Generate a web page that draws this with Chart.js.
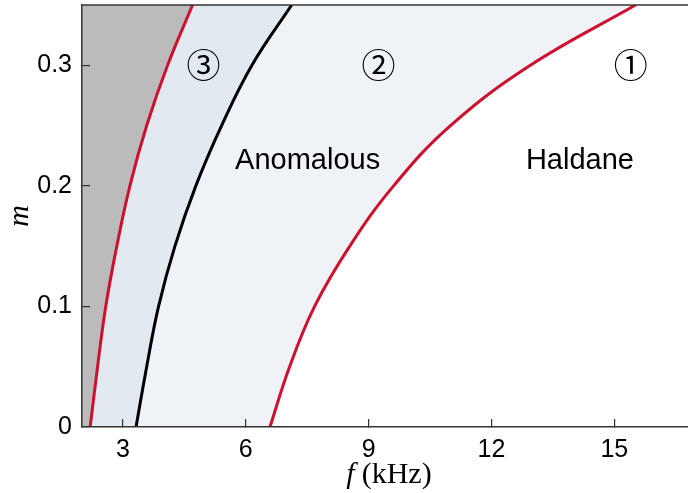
<!DOCTYPE html>
<html>
<head>
<meta charset="utf-8">
<script src="https://cdn.jsdelivr.net/npm/chart.js@4.4.1/dist/chart.umd.min.js"></script>
<style>
  html, body { margin: 0; padding: 0; background: #fff; }
  #wrap { width: 688px; height: 493px; }
</style>
</head>
<body>
<div id="wrap"><canvas id="chart"></canvas></div>
<script>
// m values shared by the three phase boundaries
let mValues = [0, 0.05, 0.1, 0.15, 0.2, 0.25, 0.3, 0.35];
// boundary frequencies f (kHz) at each m
let fBoundary3 = [2.20, 2.38, 2.58, 2.85, 3.17, 3.58, 4.09, 4.70];
let fBoundaryMid = [3.32, 3.58, 3.87, 4.27, 4.78, 5.41, 6.15, 7.12];
let fBoundary1 = [6.59, 7.07, 7.68, 8.54, 9.61, 11.0, 12.95, 15.52];

let xTicks = [3, 6, 9, 12, 15];
let yTicks = [0, 0.1, 0.2, 0.3];
const F_MIN = 2, F_MAX = 16.8, M_MIN = 0, M_MAX = 0.35;

// region markers and phase names, placed in data units
let regionMarks = ["①", "②", "③"];
let regionMarkF = [15.4, 9.24, 4.97];
let regionMarkM = [0.3, 0.3, 0.3];
let phaseNames = ["Anomalous", "Haldane"];
let phaseNameF = [7.51, 14.16];
let phaseNameM = [0.221, 0.221];

const RED = "#cf0f2e";
const GRAY = "#bbbbbb";
const BLUE_DARK = "#e1e9f1";
const BLUE_LIGHT = "#eff3f8";

function toPoints(fs, ms) {
    return fs.map((f, i) => ({ x: f, y: ms[i] }));
}

// plain column from the left edge up to where a boundary leaves m = 0
// (a hair wider so no seam shows against the curved fill)
function column(fEnd, color, order) {
    return {
        data: [{ x: F_MIN - 0.5, y: M_MIN }, { x: fEnd + 0.03, y: M_MIN }],
        showLine: true,
        borderWidth: 0,
        pointRadius: 0,
        fill: "end",
        backgroundColor: color,
        order: order
    };
}

function boundary(fs, lineColor, areaColor, order) {
    return {
        data: toPoints(fs, mValues),
        showLine: true,
        borderColor: lineColor,
        borderWidth: 3,
        pointRadius: 0,
        tension: 0.4,
        fill: "end",
        backgroundColor: areaColor,
        order: order
    };
}

function noPadding(scale) {
    scale.paddingTop = 0;
    scale.paddingBottom = 0;
    scale.paddingLeft = 0;
    scale.paddingRight = 0;
}

const overlay = {
    id: "overlay",
    afterDatasetsDraw(chart) {
        const ctx = chart.ctx;
        const xs = chart.scales.x, ys = chart.scales.y;
        const area = chart.chartArea;

        // frame line along the top
        ctx.save();
        ctx.strokeStyle = "#333";
        ctx.lineWidth = 1.5;
        ctx.beginPath();
        ctx.moveTo(area.left, area.top);
        ctx.lineTo(area.right, area.top);
        ctx.stroke();

        ctx.fillStyle = "#000";
        ctx.textAlign = "center";
        ctx.textBaseline = "middle";
        ctx.font = '34px "Noto Sans CJK JP"';
        regionMarks.forEach((t, i) => {
            ctx.fillText(t, xs.getPixelForValue(regionMarkF[i]), ys.getPixelForValue(regionMarkM[i]));
        });
        ctx.font = '29px "Liberation Sans"';
        phaseNames.forEach((t, i) => {
            ctx.fillText(t, xs.getPixelForValue(phaseNameF[i]), ys.getPixelForValue(phaseNameM[i]));
        });
        ctx.restore();
    },
    afterDraw(chart) {
        const ctx = chart.ctx;
        const area = chart.chartArea;
        ctx.save();
        ctx.fillStyle = "#000";
        ctx.textBaseline = "alphabetic";

        // x title: italic f followed by upright (kHz)
        const fPart = "f", unitPart = "(kHz)";
        ctx.font = 'italic 30px "Liberation Serif"';
        const w1 = ctx.measureText(fPart).width + 7;
        ctx.font = '30px "Liberation Serif"';
        const w2 = ctx.measureText(unitPart).width;
        let x0 = (area.left + area.right) / 2 - (w1 + w2) / 2 + 4;
        ctx.textAlign = "left";
        ctx.font = 'italic 30px "Liberation Serif"';
        ctx.fillText(fPart, x0, 483);
        ctx.font = '30px "Liberation Serif"';
        ctx.fillText(unitPart, x0 + w1, 483);

        // y title
        ctx.translate(28, (area.top + area.bottom) / 2);
        ctx.rotate(-Math.PI / 2);
        ctx.textAlign = "center";
        ctx.font = 'italic 30px "Liberation Serif"';
        ctx.fillText("m", 0, 0);
        ctx.restore();
    }
};

new Chart(document.getElementById("chart"), {
    type: "scatter",
    data: {
        datasets: [
            boundary(fBoundary3, RED, GRAY, 1),
            column(fBoundary3[0], GRAY, 1),
            boundary(fBoundaryMid, "#000", BLUE_DARK, 2),
            column(fBoundaryMid[0], BLUE_DARK, 2),
            boundary(fBoundary1, RED, BLUE_LIGHT, 3),
            column(fBoundary1[0], BLUE_LIGHT, 3)
        ]
    },
    options: {
        responsive: true,
        maintainAspectRatio: false,
        animation: false,
        layout: { padding: { top: 5, right: 0, left: 0, bottom: 0 } },
        plugins: {
            legend: { display: false },
            tooltip: { enabled: false },
            filler: { drawTime: "beforeDatasetsDraw" }
        },
        scales: {
            x: {
                type: "linear",
                min: F_MIN,
                max: F_MAX,
                afterBuildTicks: (scale) => { scale.ticks = xTicks.map(v => ({ value: v })); },
                afterFit: (scale) => { scale.height = 66; noPadding(scale); },
                ticks: {
                    color: "#000",
                    padding: 16,
                    maxRotation: 0,
                    font: { family: "Liberation Sans", size: 25 },
                    callback: (v) => String(v)
                },
                grid: { drawOnChartArea: false, tickLength: -8, color: "#333", lineWidth: 1.2, z: 1 },
                border: { color: "#333", width: 1.5, z: 1 }
            },
            y: {
                type: "linear",
                min: M_MIN,
                max: M_MAX,
                afterBuildTicks: (scale) => { scale.ticks = yTicks.map(v => ({ value: v })); },
                afterFit: (scale) => { scale.width = 82; noPadding(scale); },
                ticks: {
                    color: "#000",
                    padding: 18,
                    font: { family: "Liberation Sans", size: 25 },
                    callback: (v) => String(v)
                },
                grid: { drawOnChartArea: false, tickLength: -8, color: "#333", lineWidth: 1.2, z: 1 },
                border: { color: "#333", width: 1.5, z: 1 }
            }
        }
    },
    plugins: [overlay]
});
</script>
</body>
</html>
